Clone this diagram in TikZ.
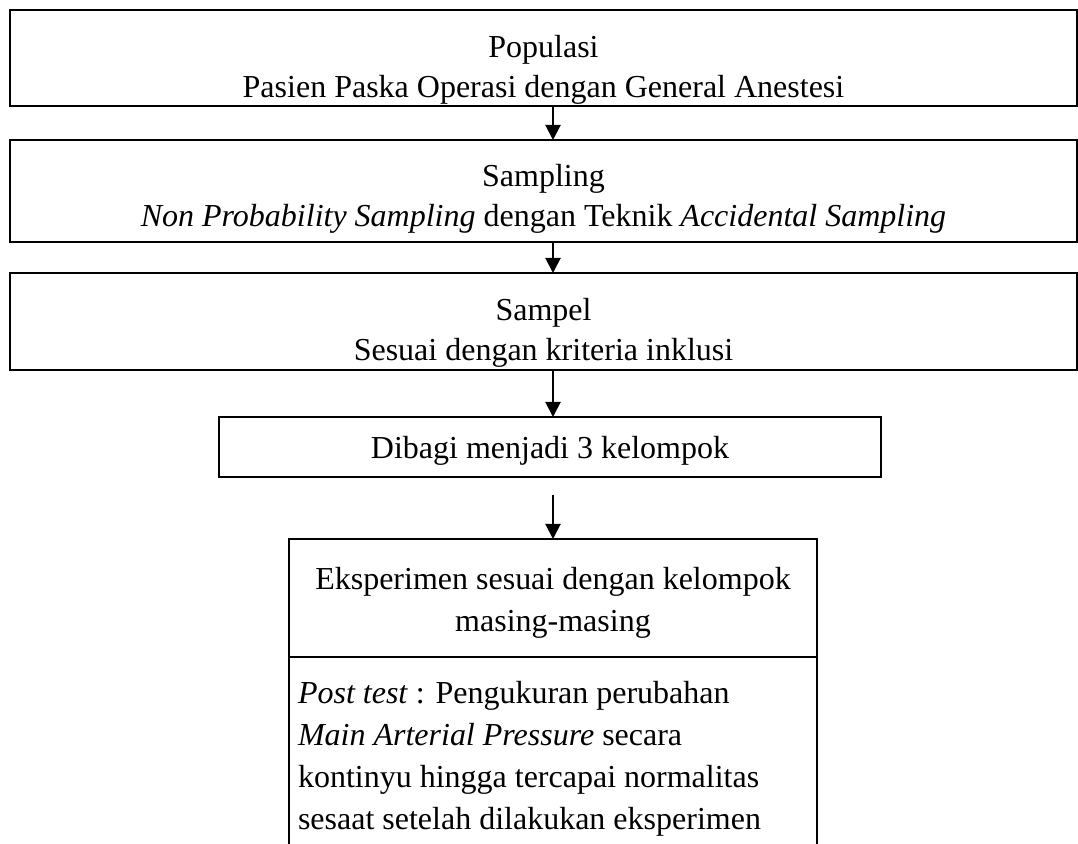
\documentclass[tikz,border=0pt]{standalone}
\usepackage{fontspec}
\setmainfont{Liberation Serif}
\usetikzlibrary{arrows.meta}

\begin{document}
\begin{tikzpicture}[x=0.5pt,y=-0.5pt,
	box/.style={draw,line width=1pt,outer sep=0pt,inner ysep=0pt,align=center,font=\fontsize{16pt}{20pt}\selectfont},
	cell/.style={box,font=\fontsize{16pt}{21pt}\selectfont},
	arr/.style={line width=1pt,-{Triangle[length=7.5pt,width=7.5pt]}}]
	%% page
	\useasboundingbox (0,0) rectangle (1078,844);
	\fill[white] (0,0) rectangle (1078,844);
	\clip (0,0) rectangle (1078,844);
	\coordinate (ax) at (553,0);
	%% boxes
	\node[box,minimum width=533.5pt,minimum height=48pt] (pop) at (543.5,58) {\rule{0pt}{23pt}Populasi\\Pasien Paska Operasi dengan General Anestesi};
	\node[box,minimum width=533.5pt,minimum height=51pt] (sampling) at (543.5,191) {\rule{0pt}{19pt}Sampling\\\textit{Non Probability Sampling} dengan Teknik \textit{Accidental Sampling}};
	\node[box,minimum width=533.5pt,minimum height=48.5pt] (sampel) at (543.5,321.5) {\rule{0pt}{22pt}Sampel\\Sesuai dengan kriteria inklusi};
	\node[box,minimum width=331pt,minimum height=30pt] (bagi) at (550,447) {\rule{0pt}{15pt}Dibagi menjadi 3 kelompok};
	%% last box, open at the bottom
	\node[cell,minimum width=264pt,minimum height=59pt] (eksp) at (553,598) {\rule{0pt}{16pt}Eksperimen sesuai dengan kelompok\\masing-masing};
	\node[cell,draw=none,anchor=north west,text width=255pt,inner xsep=4.5pt,inner ysep=12pt,align=flush left] (post) at (eksp.south west) {\textit{Post test} : Pengukuran perubahan\\\textit{Main Arterial Pressure} secara\\kontinyu hingga tercapai normalitas\\sesaat setelah dilakukan eksperimen\rule[-12pt]{0pt}{12pt}};
	\draw[line width=1pt] (eksp.south west) -- (eksp.south west |- post.south);
	\draw[line width=1pt] (eksp.south east) -- (eksp.south east |- post.south);
	%% arrows
	\draw[arr] (pop.south -| ax) -- (sampling.north -| ax);
	\draw[arr] (sampling.south -| ax) -- (sampel.north -| ax);
	\draw[arr] (sampel.south -| ax) -- (bagi.north -| ax);
	\draw[arr,shorten <=9pt] (bagi.south -| ax) -- (eksp.north);
\end{tikzpicture}
\end{document}
